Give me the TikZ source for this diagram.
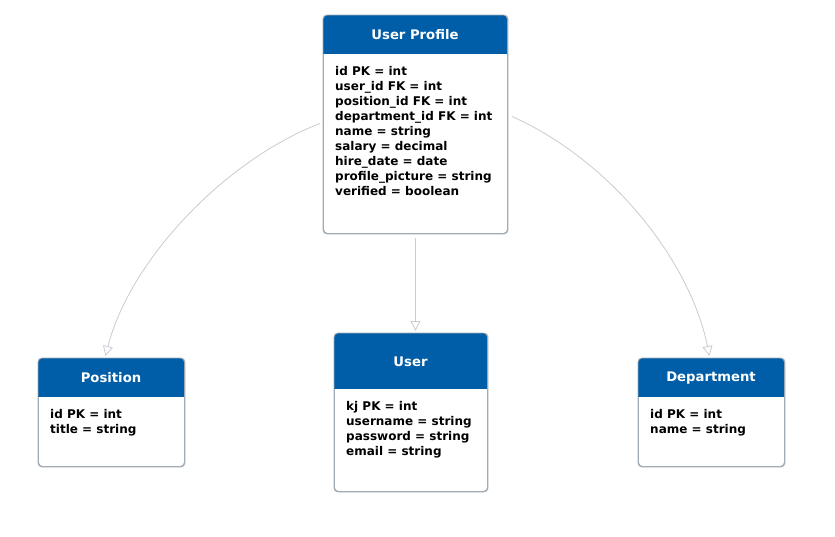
\documentclass[tikz,border=0pt]{standalone}
\usepackage{fontspec}
\setmainfont{DejaVu Sans}
\usetikzlibrary{arrows.meta}
\definecolor{hdrblue}{HTML}{005EA8}
\definecolor{boxborder}{HTML}{A3ABB5}
\definecolor{linkgray}{HTML}{C8CCD2}
\tikzset{
  entbox/.style={draw=boxborder, line width=0.9pt, fill=white, rounded corners=4pt, inner sep=0pt, anchor=north west},
  enttitle/.style={text=white, font=\bfseries\fontsize{13.2}{15}\selectfont},
  enttext/.style={anchor=north west, align=left, inner sep=0pt, font=\bfseries\fontsize{12}{15}\selectfont},
  link/.style={draw=linkgray, line width=0.8pt, -{Triangle[open, length=10pt, width=10pt, fill=white]}},
}
\newcommand{\entity}[8]{%
  % #1 name, #2 x1, #3 y1, #4 x2, #5 y2, #6 header bottom, #7 title, #8 lines
  \node[entbox, minimum width=#4pt-#2pt, minimum height=#5pt-#3pt] (#1) at (#2,#3) {};
  \begin{scope}
    \clip (#2,#3) rectangle (#4,#6);
    \fill[hdrblue, rounded corners=4pt] (#2,#3) rectangle (#4,#5);
  \end{scope}
  \draw[boxborder, line width=0.9pt, rounded corners=4pt] (#1.north west) rectangle (#1.south east);
  \node[enttitle] (#1-title) at ({(#2+#4)/2},{(#3+#6)/2+1}) {#7};
  \node[enttext] (#1-body) at (#2+12,#6+13) {#8};
}
\begin{document}
\begin{tikzpicture}[x=1pt,y=-1pt]
\useasboundingbox[fill=white] (0,0) rectangle (835,536);
\entity{up}{323}{15}{507}{233}{53}{User Profile}{id PK = int\\user\_id FK = int\\position\_id FK = int\\department\_id FK = int\\name = string\\salary = decimal\\hire\_date = date\\profile\_picture = string\\verified = boolean}
\entity{pos}{38}{358}{184}{466}{396}{Position}{id PK = int\\title = string}
\entity{usr}{334}{333}{487}{491}{388}{User}{kj PK = int\\username = string\\password = string\\email = string}
\entity{dep}{638}{358}{784}{466}{396}{Department}{id PK = int\\name = string}
\coordinate (upL) at ([xshift=-3pt,yshift=1pt]up.west);
\coordinate (upR) at ([xshift=4pt,yshift=8pt]up.east);
\coordinate (posT) at ([xshift=-6pt,yshift=2pt]pos.north);
\coordinate (depT) at ([xshift=-2pt,yshift=2pt]dep.north);
\draw[link] (upL) .. controls (225,160) and (130,260) .. (posT);
\draw[link] (upR) .. controls (610,160) and (690,260) .. (depT);
\draw[link] ([yshift=-4pt]up.south) -- ([yshift=2pt]up.south |- usr.north);
\end{tikzpicture}
\end{document}
